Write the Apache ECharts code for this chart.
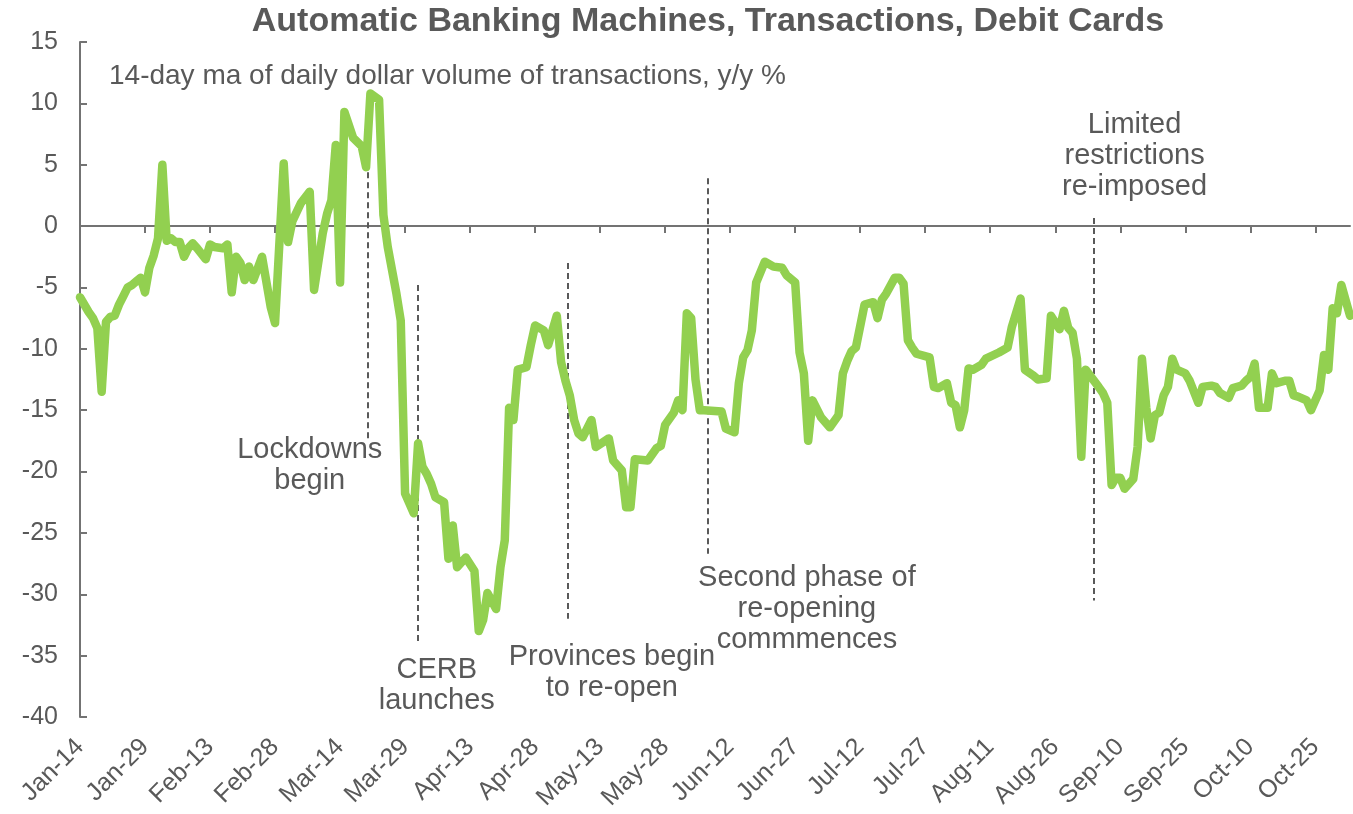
<!DOCTYPE html>
<html>
<head>
<meta charset="utf-8">
<title>Automatic Banking Machines, Transactions, Debit Cards</title>
<script src="https://cdn.jsdelivr.net/npm/echarts@6/dist/echarts.min.js"></script>
<style>
  html, body { margin: 0; padding: 0; background: #ffffff; }
  #chart { width: 1353px; height: 814px; }
</style>
</head>
<body>
<div id="chart"></div>
<script>
// Days since 14 Jan 2020 and the 14-day moving average, y/y % change
const days = [
  0, 2, 3, 4, 5, 6, 7, 8, 9, 10, 11, 12, 13, 14, 15, 16, 17, 18, 19, 20,
  21, 22, 23, 24, 25, 26, 27, 29, 30, 31, 33, 34, 35, 36, 37, 38, 39, 40, 42, 44,
  45, 47, 48, 49, 51, 53, 54, 56, 57, 58, 59, 60, 61, 63, 65, 66, 67, 69, 70, 71,
  73, 74, 75, 77, 78, 79, 80, 81, 82, 84, 85, 86, 87, 89, 91, 92, 93, 94, 96, 97,
  98, 99, 100, 101, 103, 104, 105, 107, 108, 110, 111, 112, 113, 114, 115, 116, 118, 119, 122, 123,
  125, 126, 127, 128, 131, 133, 134, 135, 137, 138, 139, 140, 141, 142, 143, 144, 148, 149, 151, 152,
  153, 154, 155, 156, 158, 160, 162, 163, 165, 166, 167, 168, 169, 171, 173, 175, 176, 177, 178, 179,
  181, 183, 184, 185, 186, 188, 189, 190, 191, 192, 193, 196, 197, 198, 200, 201, 202, 203, 204, 205,
  206, 208, 209, 212, 214, 215, 217, 218, 220, 221, 223, 224, 226, 227, 228, 229, 230, 231, 232, 235,
  236, 237, 238, 239, 240, 241, 243, 244, 245, 246, 247, 248, 249, 250, 251, 252, 253, 255, 256, 258,
  259, 261, 262, 263, 265, 266, 268, 269, 270, 271, 272, 274, 275, 276, 278, 279, 280, 281, 283, 284,
  286, 287, 288, 289, 290, 291, 293
];
const values = [
  -5.8, -7.0, -7.5, -8.3, -13.5, -7.8, -7.4, -7.3, -6.4, -5.7, -5.0, -4.8, -4.5, -4.2, -5.4, -3.4, -2.4, -1.0, 5.0, -1.2,
  -1.0, -1.3, -1.3, -2.5, -1.8, -1.4, -1.8, -2.7, -1.5, -1.7, -1.8, -1.5, -5.4, -2.5, -3.0, -4.4, -3.3, -4.4, -2.5, -6.6,
  -7.9, 5.1, -1.3, 0.4, 1.9, 2.8, -5.2, -0.6, 1.0, 2.1, 6.6, -4.6, 9.3, 7.2, 6.5, 4.8, 10.8, 10.3, 0.9, -1.7,
  -5.5, -7.7, -21.8, -23.4, -17.7, -19.6, -20.2, -21.0, -22.1, -22.5, -27.1, -24.4, -27.8, -27.0, -28.1, -33.0, -32.1, -29.9, -31.2, -27.8,
  -25.6, -14.8, -15.8, -11.7, -11.5, -9.7, -8.1, -8.5, -9.7, -7.3, -11.1, -12.6, -13.8, -15.8, -16.9, -17.2, -15.8, -18.0, -17.3, -19.1,
  -19.9, -22.9, -22.9, -19.0, -19.1, -18.1, -17.9, -16.2, -15.2, -14.2, -15.0, -7.1, -7.5, -12.5, -15.0, -15.0, -15.1, -16.5, -16.8, -12.8,
  -10.7, -10.1, -8.5, -4.6, -2.9, -3.3, -3.4, -4.0, -4.6, -10.3, -12.0, -17.5, -14.2, -15.6, -16.4, -15.4, -12.0, -11.0, -10.2, -9.9,
  -6.4, -6.2, -7.5, -6.0, -5.5, -4.2, -4.2, -4.7, -9.3, -9.9, -10.4, -10.7, -13.1, -13.2, -12.8, -14.4, -14.6, -16.4, -15.0, -11.6,
  -11.7, -11.3, -10.8, -10.3, -9.9, -8.2, -5.9, -11.7, -12.2, -12.5, -12.4, -7.3, -8.4, -6.9, -8.3, -8.7, -10.8, -18.8, -11.7, -13.1,
  -13.6, -14.4, -21.1, -20.5, -20.5, -21.4, -20.6, -18.0, -10.8, -14.8, -17.3, -15.4, -15.2, -13.8, -13.1, -10.8, -11.7, -12.0, -12.6, -14.4,
  -13.1, -13.0, -13.1, -13.6, -14.0, -13.2, -13.0, -12.6, -12.3, -11.2, -14.8, -14.8, -12.0, -12.8, -12.6, -12.6, -13.8, -13.9, -14.2, -15.0,
  -13.4, -10.5, -11.7, -6.7, -7.1, -4.8, -7.3
];

// Category labels, one every 15 days starting at day 0
const tickLabels = [
  'Jan-14', 'Jan-29', 'Feb-13', 'Feb-28', 'Mar-14', 'Mar-29', 'Apr-13', 'Apr-28',
  'May-13', 'May-28', 'Jun-12', 'Jun-27', 'Jul-12', 'Jul-27', 'Aug-11', 'Aug-26',
  'Sep-10', 'Sep-25', 'Oct-10', 'Oct-25'
];
const tickDays = tickLabels.map((_, i) => i * 15);
const lastDay = 293;

// Event markers: day, top and bottom of the dashed rule (y/y %)
const eventDays   = [66.4, 78.0, 112.5, 144.8, 233.9];
const eventTops   = [10.9, -4.8, -3.0, 3.9, 0.65];
const eventBottoms = [-17.3, -33.8, -32.0, -26.7, -30.5];

// Event notes: text and where its centre sits (day, y/y %)
const noteTexts = [
  'Lockdowns\nbegin',
  'CERB\nlaunches',
  'Provinces begin\nto re-open',
  'Second phase of\nre-opening\ncommmences',
  'Limited\nrestrictions\nre-imposed'
];
const noteDays = [53.0, 82.3, 122.7, 167.7, 243.3];
const noteValues = [-19.5, -37.4, -36.4, -31.2, 5.7];

const FONT = "'Liberation Sans', Arial, sans-serif";
const TEXT = '#595959';
const AXIS = '#737373';

const chart = echarts.init(document.getElementById('chart'), null, { renderer: 'canvas' });

const lineData = days.map((d, i) => [d, values[i]]);

const ruleData = eventDays.map((d, i) => [
  { coord: [d, eventTops[i]] },
  { coord: [d, eventBottoms[i]] }
]);

const noteData = noteTexts.map((t, i) => ({
  coord: [noteDays[i], noteValues[i]],
  value: t
}));

chart.setOption({
  animation: false,
  backgroundColor: '#ffffff',
  title: [
    {
      text: 'Automatic Banking Machines, Transactions, Debit Cards',
      left: 703,
      textAlign: 'center',
      top: 0,
      textStyle: { fontFamily: FONT, fontSize: 34, fontWeight: 'bold', color: TEXT }
    },
    {
      text: '14-day ma of daily dollar volume of transactions, y/y %',
      left: 104,
      top: 57,
      textStyle: { fontFamily: FONT, fontSize: 28, fontWeight: 'normal', color: TEXT }
    }
  ],
  grid: { left: 80, right: 3, top: 42, bottom: 97, containLabel: false },
  xAxis: [
    {
      type: 'value',
      min: 0,
      max: lastDay,
      interval: 15,
      axisLine: { show: true, onZero: true, lineStyle: { color: AXIS, width: 2 } },
      axisTick: { show: true, length: 7, customValues: tickDays, lineStyle: { color: AXIS, width: 2 } },
      axisLabel: { show: false },
      splitLine: { show: false }
    },
    {
      type: 'value',
      min: 0,
      max: lastDay,
      interval: 15,
      position: 'bottom',
      axisLine: { show: false, onZero: false },
      axisTick: { show: false },
      axisLabel: {
        show: true,
        rotate: 45,
        margin: 26,
        customValues: tickDays,
        fontFamily: FONT,
        fontSize: 25,
        color: TEXT,
        formatter: v => tickLabels[Math.round(v / 15)] || ''
      },
      splitLine: { show: false }
    }
  ],
  yAxis: {
    type: 'value',
    min: -40,
    max: 15,
    interval: 5,
    axisLine: { show: true, lineStyle: { color: AXIS, width: 2 } },
    axisTick: { show: true, inside: true, length: 7, lineStyle: { color: AXIS, width: 2 } },
    axisLabel: { fontFamily: FONT, fontSize: 25, color: TEXT, margin: 22 },
    splitLine: { show: false }
  },
  series: [
    {
      type: 'line',
      xAxisIndex: 0,
      data: lineData,
      symbol: 'none',
      smooth: false,
      lineStyle: { color: '#92D050', width: 8.5, cap: 'round', join: 'round' },
      z: 3,
      markLine: {
        silent: true,
        symbol: ['none', 'none'],
        label: { show: false },
        lineStyle: { color: TEXT, width: 2, type: [6, 4] },
        data: ruleData,
        z: 2
      },
      markPoint: {
        silent: true,
        symbol: 'circle',
        symbolSize: 0,
        label: {
          show: true,
          position: 'inside',
          formatter: p => p.value,
          fontFamily: FONT,
          fontSize: 29,
          lineHeight: 31,
          color: TEXT,
          align: 'center',
          verticalAlign: 'middle'
        },
        data: noteData
      }
    }
  ]
});
</script>
</body>
</html>
